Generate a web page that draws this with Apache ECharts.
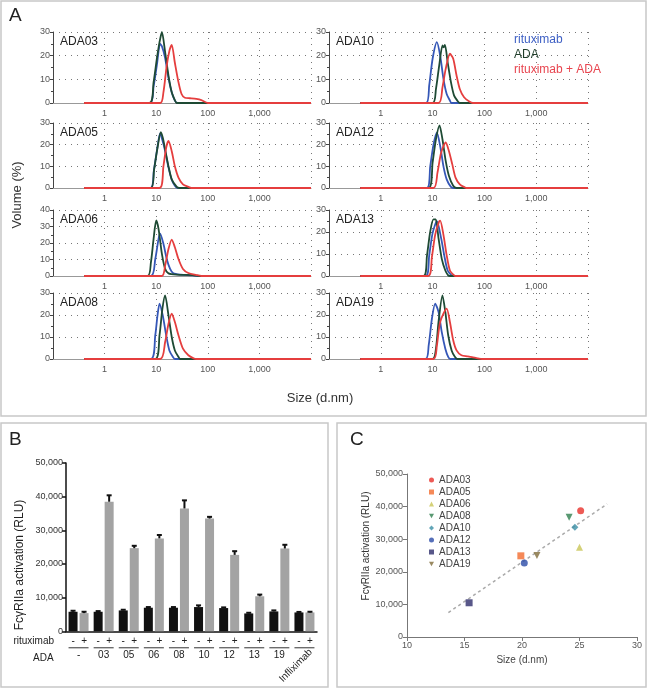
<!DOCTYPE html>
<html><head><meta charset="utf-8">
<script src="https://cdn.jsdelivr.net/npm/echarts@6/dist/echarts.min.js"></script>
<style>html,body{margin:0;padding:0;background:#fff}#c{width:650px;height:689px}</style>
</head><body><div id="c"></div><script>
// ---------- Panel A: DLS size distributions [size d.nm, volume %] ----------
const ada03_rituximab = [[0.4,0],[7.6,0],[8.9,7],[10.3,16],[11.9,25],[12.9,24],[14.9,19],[17.3,10.5],[20,4.5],[23,1],[26,0],[10000,0]];
const ada03_ada       = [[0.4,0],[7.4,0],[8.9,8.8],[10.3,18.7],[11.6,25.7],[12.9,30],[14.9,21.5],[17.3,11.6],[20,4.5],[23.2,1],[25,0],[10000,0]];
const ada03_combo     = [[0.4,0],[12,0],[13.8,4.5],[16,15.8],[18,22],[20,24.6],[23,17],[27,8.8],[31,3.8],[36,2.2],[45,2],[60,1.7],[75,1.2],[100,0],[10000,0]];

const ada05_rituximab = [[0.4,0],[7.8,0],[9,8],[10.3,17],[11.9,25.2],[13.2,22],[14.9,17],[17.3,9.5],[20,3.8],[23,1],[26,0],[10000,0]];
const ada05_ada       = [[0.4,0],[7.9,0],[9.1,8.5],[10.5,18],[12.3,25.8],[13.5,23],[14.9,17.8],[17.3,10],[20,4],[25,0.5],[28,0],[10000,0]];
const ada05_combo     = [[0.4,0],[11.6,0],[13.8,10],[15.6,18.6],[17.3,21.7],[20,17],[23,10],[27,4.8],[33,1.7],[42,0.5],[48,0],[10000,0]];

const ada06_rituximab = [[0.4,0],[7.9,0],[9.6,10.3],[11.1,22.5],[11.9,25.6],[13.8,19.5],[16,10.3],[18.6,4.3],[21.5,1.6],[30,0.8],[50,0.4],[65,0],[10000,0]];
const ada06_ada       = [[0.4,0],[6.8,0],[7.9,8.3],[8.9,22.5],[10,33.7],[11.1,28.6],[12.9,13.4],[14.9,4.3],[17.3,1.6],[25,0.8],[50,0.5],[70,0],[10000,0]];
const ada06_combo     = [[0.4,0],[12.9,0],[14.9,6.3],[17.3,16.4],[20,22.1],[23,17.4],[27,10.3],[33,4.3],[42,1.8],[60,0.6],[75,0],[10000,0]];

const ada08_rituximab = [[0.4,0],[7.9,0],[9.6,10.8],[10.6,19.8],[11.6,25.2],[13.4,19.8],[15.6,10.8],[18,3.9],[21,1],[23,0],[10000,0]];
const ada08_ada       = [[0.4,0],[9.6,0],[11.6,10.8],[13.2,22.9],[14.9,28.9],[17.3,19.8],[20,10],[23,3.9],[27,1],[29,0],[10000,0]];
const ada08_combo     = [[0.4,0],[12,0],[14.9,7.7],[17.3,16],[20,20.6],[23,16.8],[27,10.8],[33,4.7],[42,1.7],[53,0.3],[60,0],[10000,0]];

const ada10_rituximab = [[0.4,0],[7.5,0],[8.6,7.4],[10,18.7],[12.1,25.7],[14,20],[16.2,10.2],[18.7,3.8],[21.6,1],[23,0],[10000,0]];
const ada10_ada       = [[0.4,0],[10,0],[11.6,5.9],[13.4,15.8],[15.5,24.3],[16.3,23.5],[17.3,24.5],[19.5,17.3],[22.6,8.8],[26,3.1],[30,1],[33.5,0],[10000,0]];
const ada10_combo     = [[0.4,0],[13,0],[15.5,6.6],[17.9,14.4],[21.6,20.8],[25,18.7],[29,11.6],[33.5,5.9],[40.5,2.4],[52,0.5],[60,0],[10000,0]];

const ada12_rituximab = [[0.4,0],[7.8,0],[9,10],[10.4,20],[12.1,25.5],[14,19.4],[16.2,10],[18.7,4],[22.6,0.5],[25,0],[10000,0]];
const ada12_ada       = [[0.4,0],[8.4,0],[10,11.7],[11.6,22.5],[13.6,28.9],[15.5,22.5],[17.9,12.5],[20.7,5.5],[25,1],[29,0],[10000,0]];
const ada12_combo     = [[0.4,0],[10.4,0],[12.4,7],[14.6,16.3],[17.9,21],[20.7,17],[24,10.9],[27.7,4.8],[33.5,1.7],[41.7,0.3],[45,0],[10000,0]];

const ada13_rituximab = [[0.4,0],[7.4,0],[8.6,9.4],[10,19.5],[12.1,24.9],[14.6,17.2],[17,8.7],[19.5,2.5],[23.2,0.3],[25,0],[10000,0]];
const ada13_ada       = [[0.4,0],[6.7,0],[7.8,9.4],[9,20.2],[10.4,25.7],[11.5,25.7],[13,17.2],[15,7.9],[17.6,2.5],[20,0.3],[21.5,0],[10000,0]];
const ada13_combo     = [[0.4,0],[8.2,0],[9.7,8.7],[11.2,18.7],[13.2,24.5],[14,25.2],[16.2,18.7],[18.7,9.4],[21.6,2.5],[26,0.3],[28,0],[10000,0]];

const ada19_rituximab = [[0.4,0],[7.3,0],[8.4,6.2],[9.7,18.3],[11.2,25.2],[13,21.4],[15,12.3],[17.6,4.7],[20,1],[22,0],[10000,0]];
const ada19_ada       = [[0.4,0],[10,0],[11.6,4.7],[13,16.8],[15.5,28.9],[17.6,21.4],[20,10.8],[23.3,3.9],[26.9,1],[30,0],[10000,0]];
const ada19_combo     = [[0.4,0],[10.4,0],[12.1,6.2],[14,16.8],[18.7,22.9],[21.6,16.8],[25,8.5],[29,3.9],[36,1.7],[48,1.2],[60,0.7],[75,0.3],[90,0],[10000,0]];

const aSeriesNames = ['rituximab', 'ADA', 'rituximab + ADA'];
const aPanelNames = ['ADA03','ADA05','ADA06','ADA08','ADA10','ADA12','ADA13','ADA19'];
const aPanelYMax  = [30, 30, 40, 30, 30, 30, 30, 30];
const aPanelData = [
  [ada03_rituximab, ada03_ada, ada03_combo],
  [ada05_rituximab, ada05_ada, ada05_combo],
  [ada06_rituximab, ada06_ada, ada06_combo],
  [ada08_rituximab, ada08_ada, ada08_combo],
  [ada10_rituximab, ada10_ada, ada10_combo],
  [ada12_rituximab, ada12_ada, ada12_combo],
  [ada13_rituximab, ada13_ada, ada13_combo],
  [ada19_rituximab, ada19_ada, ada19_combo]
];

// ---------- Panel B: FcγRIIa activation ----------
const bCategories = ['-','03','05','06','08','10','12','13','19','Infliximab'];
const bMinus    = [5800, 5800, 6200, 7000, 7000, 7200, 6900, 5300, 5900, 5600];
const bMinusErr = [300, 200, 200, 200, 200, 500, 200, 200, 300, 150];
const bPlus     = [5400, 38500, 24700, 27600, 36500, 33500, 22700, 10400, 24600, 5600];
const bPlusErr  = [400, 1900, 700, 1000, 2400, 500, 1100, 500, 1100, 200];

// ---------- Panel C: size vs activation ----------
const cNames = ['ADA03','ADA05','ADA06','ADA08','ADA10','ADA12','ADA13','ADA19'];
const cSize  = [25.1, 19.9, 25.0, 24.1, 24.6, 20.2, 15.4, 21.3];
const cRLU   = [38700, 24900, 27500, 36700, 33700, 22700, 10500, 25000];
const cTrend = [[13.6, 7500], [27.4, 40800]];

// ---------- styling ----------
const FONT = '"Liberation Sans", Arial, Helvetica, sans-serif';
const aColors = ['#3557b7', '#1e4a34', '#e53e3e'];
const aLegendColors = ['#3d5fc4', '#1f3d2a', '#e8454f'];
const colLeft = [53, 329], colWidth = [258, 259];
const rowTop = [32, 123, 210, 293], rowHeight = [71, 65, 66, 66];
const cColors = ['#e8312b','#f26b2e','#c9c656','#2f7f4f','#3b8ea5','#2b4ba8','#2e2d6b','#7f6b3a'];
const DOWN_TRI = 'path://M0,0L10,0L5,9Z';
const cSymbols = ['circle','rect','triangle',DOWN_TRI,'diamond','circle','rect',DOWN_TRI];
const dotted = {color:'#777', type:[1,5], width:1};
const fmtComma = v => Number(v).toLocaleString('en-US');

const grids = [], xAxes = [], yAxes = [], series = [], titles = [];

aPanelNames.forEach((nm, i) => {
  const col = i < 4 ? 0 : 1, row = i % 4;
  grids.push({left: colLeft[col], top: rowTop[row], width: colWidth[col], height: rowHeight[row]});
  xAxes.push({
    type:'log', logBase:10, gridIndex:i, min:0.1, max:10000,
    axisLine:{lineStyle:{color:'#999', width:1}},
    axisTick:{show:false},
    axisLabel:{fontSize:9, color:'#555', margin:6, showMinLabel:false, showMaxLabel:false,
      formatter: v => (v < 0.5 || v > 5000) ? '' : fmtComma(Math.round(v))},
    splitLine:{show:true, lineStyle:dotted}
  });
  yAxes.push({
    type:'value', gridIndex:i, min:0, max:aPanelYMax[i], interval:10,
    axisLine:{show:true, lineStyle:{color:'#444', width:1}},
    axisTick:{show:true, length:3, lineStyle:{color:'#444'}},
    minorTick:{show:true, splitNumber:2, length:2, lineStyle:{color:'#444'}},
    axisLabel:{fontSize:9, color:'#555', margin:3},
    splitLine:{show:true, lineStyle:dotted}
  });
  aPanelData[i].forEach((d, k) => {
    series.push({
      type:'line', name:aSeriesNames[k], xAxisIndex:i, yAxisIndex:i, data:d,
      showSymbol:false, smooth:0.25, z:2+k,
      lineStyle:{width:1.8, color:aColors[k]}, itemStyle:{color:aColors[k]}
    });
  });
  titles.push({text:nm, left:colLeft[col]+7, top:rowTop[row]+4, padding:0,
    textStyle:{fontSize:12, fontWeight:'normal', color:'#222', fontFamily:FONT}});
});

// Panel B
const gB = 8;
grids.push({left:66, top:463, width:251, height:169});
xAxes.push({
  type:'category', gridIndex:gB, data:bCategories,
  axisLine:{lineStyle:{color:'#111', width:1.5}}, axisTick:{show:false},
  axisLabel:{interval:0, margin:4, formatter:() => '{m|-}{p|+}\n{u|}',
    rich:{m:{width:11, align:'center', fontSize:10, color:'#222', lineHeight:11},
          p:{width:11, align:'center', fontSize:10, color:'#222', lineHeight:11},
          u:{width:20, height:1, backgroundColor:'#333', lineHeight:3}}}
});
xAxes.push({
  type:'category', gridIndex:gB, data:bCategories, position:'bottom', offset:17,
  axisLine:{show:false}, axisTick:{show:false},
  axisLabel:{interval:0, fontSize:10, color:'#222', margin:2, formatter: v => v === 'Infliximab' ? '' : v}
});
xAxes.push({
  type:'category', gridIndex:gB, data:bCategories, position:'bottom', offset:11,
  axisLine:{show:false}, axisTick:{show:false},
  axisLabel:{interval:0, fontSize:10, color:'#222', margin:2, rotate:45, verticalAlign:'top', lineHeight:18,
    formatter: v => v === 'Infliximab' ? v : ''}
});
yAxes.push({
  type:'value', gridIndex:gB, min:0, max:50000, interval:10000,
  axisLine:{show:true, lineStyle:{color:'#111', width:1.5}},
  axisTick:{show:true, length:4, lineStyle:{color:'#111', width:1.5}},
  axisLabel:{fontSize:9, color:'#333', margin:3, formatter:fmtComma},
  splitLine:{show:false}
});
const bXi = 8, bYi = 8;
const BAR_W = 9, BAR_GAP = 2;
series.push({type:'bar', name:'minus', xAxisIndex:bXi, yAxisIndex:bYi, data:bMinus, barWidth:BAR_W, barGap:(BAR_GAP/BAR_W*100)+'%', itemStyle:{color:'#111'}});
series.push({type:'bar', name:'plus', xAxisIndex:bXi, yAxisIndex:bYi, data:bPlus, barWidth:BAR_W, itemStyle:{color:'#a3a3a3'}});
function errRender(side) {
  return function(params, api) {
    const idx = api.value(0), v = api.value(1), e = api.value(2);
    const x = api.coord([idx, 0])[0] + side * (BAR_W + BAR_GAP) / 2;
    const y0 = api.coord([idx, v])[1];
    const y1 = api.coord([idx, v + e])[1];
    return {type:'group', children:[
      {type:'line', shape:{x1:x, y1:y0, x2:x, y2:y1}, style:{stroke:'#111', lineWidth:2}},
      {type:'line', shape:{x1:x-2.5, y1:y1, x2:x+2.5, y2:y1}, style:{stroke:'#111', lineWidth:2}}
    ]};
  };
}
series.push({type:'custom', name:'errMinus', xAxisIndex:bXi, yAxisIndex:bYi, z:5,
  data:bMinus.map((v,i)=>[i, v, bMinusErr[i]]), encode:{x:0, y:1}, renderItem:errRender(-1)});
series.push({type:'custom', name:'errPlus', xAxisIndex:bXi, yAxisIndex:bYi, z:5,
  data:bPlus.map((v,i)=>[i, v, bPlusErr[i]]), encode:{x:0, y:1}, renderItem:errRender(1)});

// Panel C
const gC = 9;
grids.push({left:407, top:474, width:230, height:163});
xAxes.push({
  type:'value', gridIndex:gC, min:10, max:30, interval:5,
  axisLine:{lineStyle:{color:'#777', width:1}},
  axisTick:{show:true, length:4, lineStyle:{color:'#777'}},
  axisLabel:{fontSize:9, color:'#555', margin:4},
  splitLine:{show:false},
  name:'Size (d.nm)', nameLocation:'middle', nameGap:18,
  nameTextStyle:{fontSize:10, color:'#444', fontFamily:FONT}
});
yAxes.push({
  type:'value', gridIndex:gC, min:0, max:50000, interval:10000,
  axisLine:{show:true, lineStyle:{color:'#777', width:1}},
  axisTick:{show:true, length:4, lineStyle:{color:'#777'}},
  axisLabel:{fontSize:9, color:'#555', margin:4, formatter:fmtComma},
  splitLine:{show:false}
});
const cXi = 11, cYi = 9;
series.push({type:'line', name:'trend', xAxisIndex:cXi, yAxisIndex:cYi, data:cTrend, showSymbol:false,
  lineStyle:{color:'#aaa', width:1.5, type:[3,3]}, z:1, silent:true});
cNames.forEach((nm, i) => {
  series.push({type:'scatter', name:nm, xAxisIndex:cXi, yAxisIndex:cYi, data:[[cSize[i], cRLU[i]]],
    symbol:cSymbols[i], symbolSize:7, z:3, itemStyle:{color:cColors[i]}});
});

const option = {
  animation:false,
  backgroundColor:'#fff',
  textStyle:{fontFamily:FONT},
  grid:grids, xAxis:xAxes, yAxis:yAxes, series:series, title:titles,
  legend:[
    {data: aSeriesNames.map((n,k)=>({name:n, icon:'none', textStyle:{color:aLegendColors[k]}})),
     orient:'vertical', left:508, top:32, padding:0, itemWidth:1, itemHeight:10, itemGap:0,
     selectedMode:false, textStyle:{fontSize:12, lineHeight:15, fontFamily:FONT}},
    {data: cNames, orient:'vertical', left:429, top:474, padding:0, itemWidth:5, itemHeight:5, itemGap:0,
     selectedMode:false, textStyle:{fontSize:10, lineHeight:12, color:'#444', fontFamily:FONT}}
  ],
  graphic:[
    {type:'rect', shape:{x:1, y:1, width:645, height:415}, style:{fill:'none', stroke:'#c8c8c8', lineWidth:1.5}, silent:true},
    {type:'rect', shape:{x:1, y:423, width:327, height:264}, style:{fill:'none', stroke:'#c8c8c8', lineWidth:1.5}, silent:true},
    {type:'rect', shape:{x:337, y:423, width:309, height:264}, style:{fill:'none', stroke:'#c8c8c8', lineWidth:1.5}, silent:true},
    {type:'text', x:9, y:6, style:{text:'A', font:'19px '+FONT, fill:'#222'}},
    {type:'text', x:9, y:430, style:{text:'B', font:'19px '+FONT, fill:'#222'}},
    {type:'text', x:350, y:430, style:{text:'C', font:'19px '+FONT, fill:'#222'}},
    {type:'text', x:17, y:195, rotation:Math.PI/2, style:{text:'Volume (%)', font:'13px '+FONT, fill:'#333', align:'center', verticalAlign:'middle'}},
    {type:'text', x:320, y:398, style:{text:'Size (d.nm)', font:'13px '+FONT, fill:'#333', align:'center', verticalAlign:'middle'}},
    {type:'text', x:20, y:565, rotation:Math.PI/2, style:{text:'FcγRIIa activation (RLU)', font:'12px '+FONT, fill:'#222', align:'center', verticalAlign:'middle'}},
    {type:'text', x:366, y:546, rotation:Math.PI/2, style:{text:'FcγRIIa activation (RLU)', font:'10px '+FONT, fill:'#333', align:'center', verticalAlign:'middle'}},
    {type:'text', x:54, y:641, style:{text:'rituximab', font:'10px '+FONT, fill:'#222', align:'right', verticalAlign:'middle'}},
    {type:'text', x:33, y:658, style:{text:'ADA', font:'10px '+FONT, fill:'#222', align:'left', verticalAlign:'middle'}}
  ]
};
const chart = echarts.init(document.getElementById('c'), null, {renderer:'canvas'});
chart.setOption(option);
</script></body></html>
